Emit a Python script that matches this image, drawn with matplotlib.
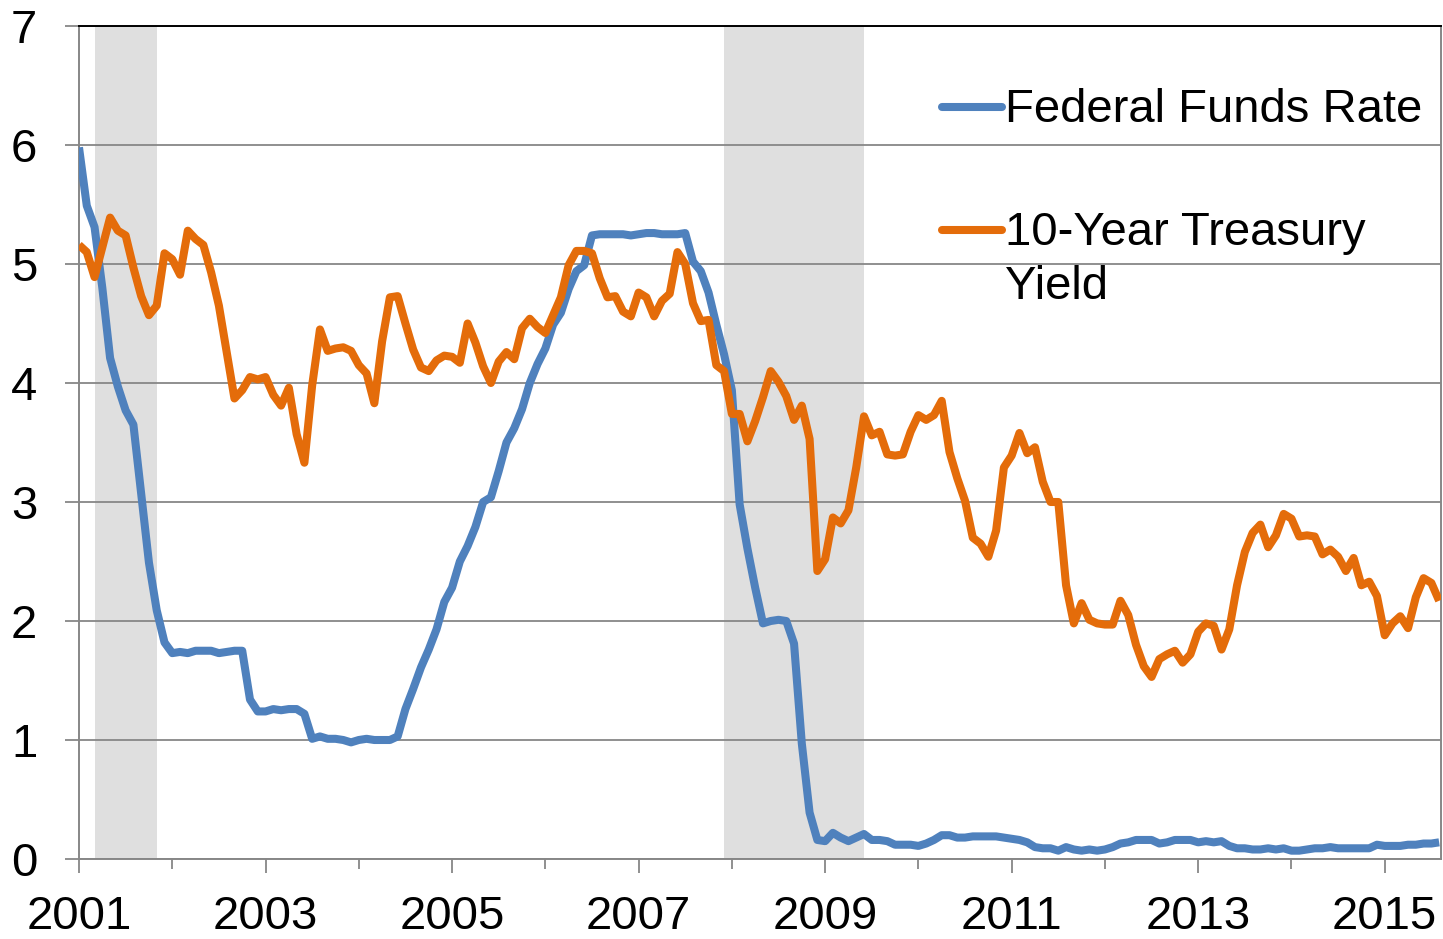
import numpy as np
import matplotlib
matplotlib.use("Agg")
import matplotlib.pyplot as plt

# monthly values, Jan 2001 - Aug 2015
fed_funds = [
    5.98, 5.49, 5.31, 4.80, 4.21, 3.97, 3.77, 3.65, 3.07, 2.49, 2.09, 1.82,  # 2001
    1.73, 1.74, 1.73, 1.75, 1.75, 1.75, 1.73, 1.74, 1.75, 1.75, 1.34, 1.24,  # 2002
    1.24, 1.26, 1.25, 1.26, 1.26, 1.22, 1.01, 1.03, 1.01, 1.01, 1.00, 0.98,  # 2003
    1.00, 1.01, 1.00, 1.00, 1.00, 1.03, 1.26, 1.43, 1.61, 1.76, 1.93, 2.16,  # 2004
    2.28, 2.50, 2.63, 2.79, 3.00, 3.04, 3.26, 3.50, 3.62, 3.78, 4.00, 4.16,  # 2005
    4.29, 4.49, 4.59, 4.79, 4.94, 4.99, 5.24, 5.25, 5.25, 5.25, 5.25, 5.24,  # 2006
    5.25, 5.26, 5.26, 5.25, 5.25, 5.25, 5.26, 5.02, 4.94, 4.76, 4.49, 4.24,  # 2007
    3.94, 2.98, 2.61, 2.28, 1.98, 2.00, 2.01, 2.00, 1.81, 0.97, 0.39, 0.16,  # 2008
    0.15, 0.22, 0.18, 0.15, 0.18, 0.21, 0.16, 0.16, 0.15, 0.12, 0.12, 0.12,  # 2009
    0.11, 0.13, 0.16, 0.20, 0.20, 0.18, 0.18, 0.19, 0.19, 0.19, 0.19, 0.18,  # 2010
    0.17, 0.16, 0.14, 0.10, 0.09, 0.09, 0.07, 0.10, 0.08, 0.07, 0.08, 0.07,  # 2011
    0.08, 0.10, 0.13, 0.14, 0.16, 0.16, 0.16, 0.13, 0.14, 0.16, 0.16, 0.16,  # 2012
    0.14, 0.15, 0.14, 0.15, 0.11, 0.09, 0.09, 0.08, 0.08, 0.09, 0.08, 0.09,  # 2013
    0.07, 0.07, 0.08, 0.09, 0.09, 0.10, 0.09, 0.09, 0.09, 0.09, 0.09, 0.12,  # 2014
    0.11, 0.11, 0.11, 0.12, 0.12, 0.13, 0.13, 0.14,                          # 2015
]

treasury_10y = [
    5.16, 5.10, 4.89, 5.14, 5.39, 5.28, 5.24, 4.97, 4.73, 4.57, 4.65, 5.09,
    5.04, 4.91, 5.28, 5.21, 5.16, 4.93, 4.65, 4.26, 3.87, 3.94, 4.05, 4.03,
    4.05, 3.90, 3.81, 3.96, 3.57, 3.33, 3.98, 4.45, 4.27, 4.29, 4.30, 4.27,
    4.15, 4.08, 3.83, 4.35, 4.72, 4.73, 4.50, 4.28, 4.13, 4.10, 4.19, 4.23,
    4.22, 4.17, 4.50, 4.34, 4.14, 4.00, 4.18, 4.26, 4.20, 4.46, 4.54, 4.47,
    4.42, 4.57, 4.72, 4.99, 5.11, 5.11, 5.09, 4.88, 4.72, 4.73, 4.60, 4.56,
    4.76, 4.72, 4.56, 4.69, 4.75, 5.10, 5.00, 4.67, 4.52, 4.53, 4.15, 4.10,
    3.74, 3.74, 3.51, 3.68, 3.88, 4.10, 4.01, 3.89, 3.69, 3.81, 3.53, 2.42,
    2.52, 2.87, 2.82, 2.93, 3.29, 3.72, 3.56, 3.59, 3.40, 3.39, 3.40, 3.59,
    3.73, 3.69, 3.73, 3.85, 3.42, 3.20, 3.01, 2.70, 2.65, 2.54, 2.76, 3.29,
    3.39, 3.58, 3.41, 3.46, 3.17, 3.00, 3.00, 2.30, 1.98, 2.15, 2.01, 1.98,
    1.97, 1.97, 2.17, 2.05, 1.80, 1.62, 1.53, 1.68, 1.72, 1.75, 1.65, 1.72,
    1.91, 1.98, 1.96, 1.76, 1.93, 2.30, 2.58, 2.74, 2.81, 2.62, 2.72, 2.90,
    2.86, 2.71, 2.72, 2.71, 2.56, 2.60, 2.54, 2.42, 2.53, 2.30, 2.33, 2.21,
    1.88, 1.98, 2.04, 1.94, 2.20, 2.36, 2.32, 2.17,
]

# recessions (start, end) as fractional years
recessions = [(2001 + 2 / 12, 2001 + 10 / 12), (2007 + 11 / 12, 2009 + 5 / 12)]

years = list(range(2001, 2016))
labels = ["Federal Funds Rate", "10-Year Treasury\nYield"]

x = 2001 + np.arange(len(fed_funds)) / 12

plt.rcParams["font.family"] = ["Liberation Sans", "DejaVu Sans"]
FS = 34
BLUE = "#4F81BD"
ORANGE = "#E46C0A"
GRID = "#878787"

fig = plt.figure(figsize=(14.43, 9.39), dpi=100)
ax = fig.add_axes([79 / 1443, 80 / 939, 1362 / 1443, 833 / 939])

for a, b in recessions:
    ax.axvspan(a, b, color="#DFDFDF", lw=0, zorder=0)

ax.set_axisbelow(True)
ax.yaxis.grid(True, color=GRID, lw=1.3, zorder=0.5)

ax.plot(x, fed_funds, color=BLUE, lw=5.8, solid_joinstyle="round", solid_capstyle="butt", zorder=3)
ax.plot(x, treasury_10y, color=ORANGE, lw=5.8, solid_joinstyle="round", solid_capstyle="butt", zorder=3)

ax.set_xlim(2001, 2001 + 175 / 12 + 0.02)
ax.set_ylim(0, 7)
ax.set_yticks(range(0, 8))
ax.set_yticklabels([str(v) for v in range(0, 8)], fontsize=FS)

ax.set_xticks([y for y in years if y % 2 == 1])
ax.set_xticklabels([str(y) for y in years if y % 2 == 1], fontsize=FS)
ax.set_xticks([y for y in years if y % 2 == 0], minor=True)

ax.tick_params(axis="y", length=10, width=1.3, color=GRID, pad=20)
ax.tick_params(axis="x", which="major", length=10, width=1.3, color=GRID, pad=16)
ax.tick_params(axis="x", which="minor", length=7, width=1.3, color=GRID)

for side in ["left", "bottom", "right"]:
    ax.spines[side].set_color(GRID)
    ax.spines[side].set_linewidth(1.4)
ax.spines["top"].set_color("black")
ax.spines["top"].set_linewidth(1.4)

# legend drawn by hand so handles line up with the first text line
handle_x = [(942 - 79) / 1362, (1002 - 79) / 1362]
text_x = (1005 - 79) / 1362
for lbl, col, hy, ty in [(labels[0], BLUE, 107, 88), (labels[1], ORANGE, 230, 211)]:
    ax.plot(handle_x, [(859 - hy) / 833] * 2, color=col, lw=5.8,
            solid_capstyle="round", transform=ax.transAxes, clip_on=False, zorder=4)
    ax.text(text_x, (859 - ty) / 833, lbl, transform=ax.transAxes, fontsize=FS,
            ha="left", va="top", linespacing=1.28, zorder=4)

fig.savefig("out.png", dpi=100)
